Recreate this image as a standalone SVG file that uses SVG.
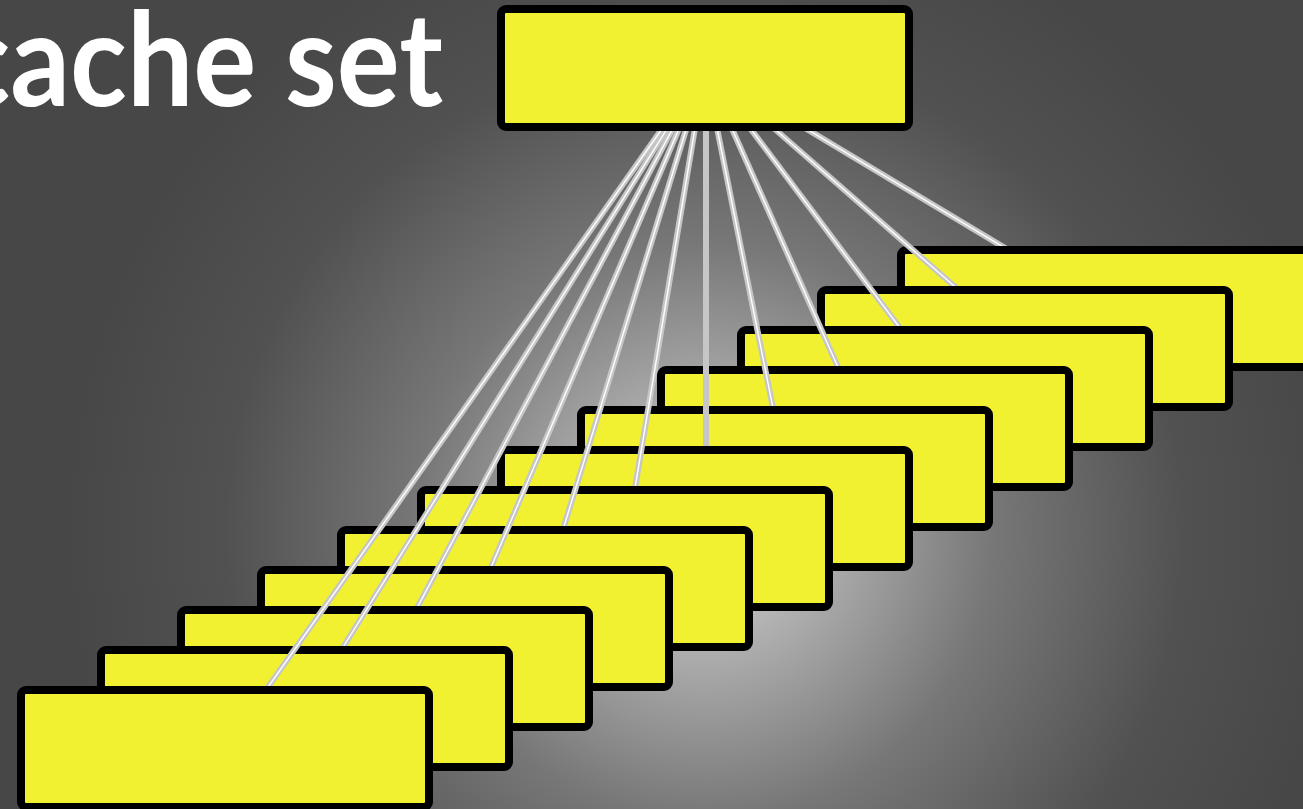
<svg xmlns="http://www.w3.org/2000/svg" width="1303" height="809" viewBox="0 0 1303 809">
  <defs>
    <radialGradient id="bgGlow" gradientUnits="userSpaceOnUse" cx="705" cy="530" r="640">
      <stop offset="0" stop-color="#dadada"/>
      <stop offset="0.18" stop-color="#b0b0b0"/>
      <stop offset="0.45" stop-color="#777777"/>
      <stop offset="0.75" stop-color="#515151"/>
      <stop offset="1" stop-color="#474747"/>
    </radialGradient>
    <style>
      .way { fill: #f1f131; stroke: #000; stroke-width: 8; }
      .wire { stroke: #c6c6c6; stroke-width: 6; fill: none; }
      .wire-core { stroke: #ffffff; stroke-width: 1.4; fill: none; }
      .title { font-family: Lato, "Open Sans", "Liberation Sans", sans-serif; font-weight: 700; font-size: 131px; fill: #ffffff; }
    </style>
  </defs>

  <rect x="0" y="0" width="1303" height="809" fill="url(#bgGlow)"/>

  <text class="title" x="443" y="106" text-anchor="end" transform="translate(443 0) scale(0.9 1) translate(-443 0)">cache set</text>

  <!-- Ways are drawn back to front; each wire is laid just under its own way -->
  <g id="connectors-and-ways">
    <g id="way12"><line class="wire" x1="705" y1="68" x2="1105" y2="308"/><line class="wire-core" x1="705" y1="68" x2="1105" y2="308"/>
      <rect class="way" x="901" y="250" width="408" height="117" rx="5"/></g>
    <g id="way11"><line class="wire" x1="705" y1="68" x2="1025" y2="348"/><line class="wire-core" x1="705" y1="68" x2="1025" y2="348"/>
      <rect class="way" x="821" y="290" width="408" height="117" rx="5"/></g>
    <g id="way10"><line class="wire" x1="705" y1="68" x2="945" y2="388"/><line class="wire-core" x1="705" y1="68" x2="945" y2="388"/>
      <rect class="way" x="741" y="330" width="408" height="117" rx="5"/></g>
    <g id="way9"><line class="wire" x1="705" y1="68" x2="865" y2="428"/><line class="wire-core" x1="705" y1="68" x2="865" y2="428"/>
      <rect class="way" x="661" y="370" width="408" height="117" rx="5"/></g>
    <g id="way8"><line class="wire" x1="705" y1="68" x2="785" y2="468"/><line class="wire-core" x1="705" y1="68" x2="785" y2="468"/>
      <rect class="way" x="581" y="410" width="408" height="117" rx="5"/></g>
    <g id="way7"><line class="wire" x1="706" y1="68" x2="706" y2="508"/>
      <rect class="way" x="501" y="450" width="408" height="117" rx="5"/></g>
    <g id="way6"><line class="wire" x1="705" y1="68" x2="625" y2="548"/><line class="wire-core" x1="705" y1="68" x2="625" y2="548"/>
      <rect class="way" x="421" y="490" width="408" height="117" rx="5"/></g>
    <g id="way5"><line class="wire" x1="705" y1="68" x2="545" y2="588"/><line class="wire-core" x1="705" y1="68" x2="545" y2="588"/>
      <rect class="way" x="341" y="530" width="408" height="117" rx="5"/></g>
    <g id="way4"><line class="wire" x1="705" y1="68" x2="465" y2="628"/><line class="wire-core" x1="705" y1="68" x2="465" y2="628"/>
      <rect class="way" x="261" y="570" width="408" height="117" rx="5"/></g>
    <g id="way3"><line class="wire" x1="705" y1="68" x2="385" y2="668"/><line class="wire-core" x1="705" y1="68" x2="385" y2="668"/>
      <rect class="way" x="181" y="610" width="408" height="117" rx="5"/></g>
    <g id="way2"><line class="wire" x1="705" y1="68" x2="305" y2="708"/><line class="wire-core" x1="705" y1="68" x2="305" y2="708"/>
      <rect class="way" x="101" y="650" width="408" height="117" rx="5"/></g>
    <g id="way1"><line class="wire" x1="705" y1="68" x2="225" y2="748"/><line class="wire-core" x1="705" y1="68" x2="225" y2="748"/>
      <rect class="way" x="21" y="690" width="408" height="117" rx="5"/></g>
  </g>

  <g id="set-head">
    <rect class="way" x="501" y="9" width="408" height="118" rx="5"/>
  </g>
</svg>
